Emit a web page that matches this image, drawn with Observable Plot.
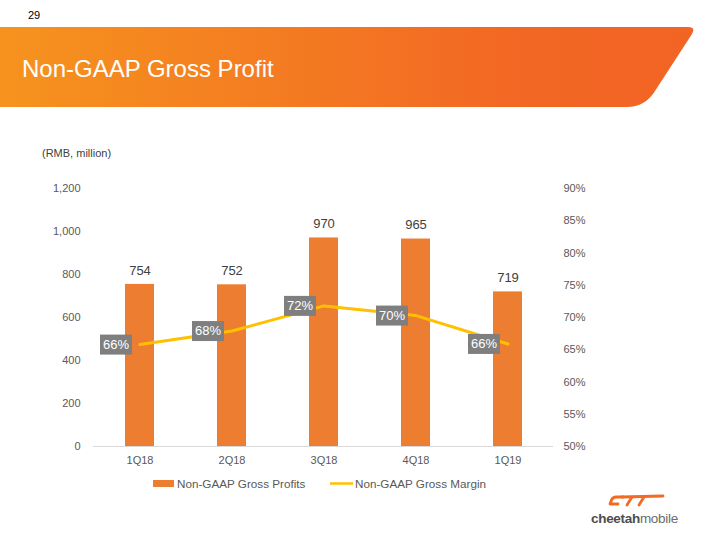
<!DOCTYPE html>
<html>
<head>
<meta charset="utf-8">
<script src="https://cdn.jsdelivr.net/npm/d3@7"></script>
<script src="https://cdn.jsdelivr.net/npm/@observablehq/plot@0.6"></script>
<style>
  html, body { margin: 0; padding: 0; background: #fff; }
  #page { position: relative; width: 720px; height: 540px; overflow: hidden; font-family: "Liberation Sans", Arial, sans-serif; }
  .abs { position: absolute; }
</style>
</head>
<body>
<div id="page">
  <svg class="abs" style="left:0;top:0" width="720" height="120">
    <defs>
      <linearGradient id="hdr" x1="0" x2="1" y1="0" y2="0">
        <stop offset="0" stop-color="#F6931E"/>
        <stop offset="0.75" stop-color="#F26724"/>
        <stop offset="1" stop-color="#F26424"/>
      </linearGradient>
    </defs>
    <text x="28" y="19" font-size="11" fill="#000" font-family="Liberation Sans, Arial">29</text>
    <path d="M0,27 L688,27 Q696,27 692,34 L655,91 Q645,107 627,107 L0,107 Z" fill="url(#hdr)"/>
    <text x="22" y="77" font-size="24" fill="#fff" font-family="Liberation Sans, Arial">Non-GAAP Gross Profit</text>
  </svg>
  <div class="abs" style="left:42px;top:147px;font-size:11px;color:#404040;">(RMB, million)</div>
  <div id="chart" class="abs" style="left:0;top:160px;"></div>
  <svg class="abs" style="left:0;top:470px" width="720" height="30">
    <rect x="153" y="10" width="21" height="7" fill="#ED7D31"/>
    <text x="177" y="17.5" font-size="11.7" fill="#595959" font-family="Liberation Sans, Arial">Non-GAAP Gross Profits</text>
    <line x1="330" x2="353" y1="13.5" y2="13.5" stroke="#FFC000" stroke-width="2.5"/>
    <text x="355" y="17.5" font-size="11.7" fill="#595959" font-family="Liberation Sans, Arial">Non-GAAP Gross Margin</text>
  </svg>
  <svg class="abs" style="left:560px;top:488px" width="160" height="45">
    <g fill="none" stroke="#F26B22" stroke-width="2.8" stroke-linecap="round" stroke-linejoin="round">
      <path d="M63,9 L56,9 Q53,9 51.5,12 L50,16 L58,16"/>
      <path d="M62,9 L103,8"/>
      <path d="M72,9 L67,17"/>
      <path d="M84,9 L79,17"/>
    </g>
    <text x="31" y="35" font-size="13.5" font-family="Liberation Sans, Arial" letter-spacing="-0.3"><tspan fill="#4d4d4d" font-weight="bold">cheetah</tspan><tspan fill="#6d6d6d">mobile</tspan></text>
  </svg>
</div>
<script>
const quarters = ["1Q18", "2Q18", "3Q18", "4Q18", "1Q19"];
const grossProfits = [754, 752, 970, 965, 719];
const grossMargin = [65.8, 67.9, 71.8, 70.3, 65.9];
const marginLabels = ["66%", "68%", "72%", "70%", "66%"];
const leftTicks = [0, 200, 400, 600, 800, 1000, 1200];
const rightTicks = [50, 55, 60, 65, 70, 75, 80, 85, 90];

// right axis (50%..90%) mapped onto the left axis range (0..1200)
const rMin = 50, rMax = 90, lMax = 1200;
const toLeft = p => (p - rMin) / (rMax - rMin) * lMax;
const toRight = v => rMin + v / lMax * (rMax - rMin);

const data = quarters.map((q, i) => ({
  q, v: grossProfits[i], m: grossMargin[i], ml: marginLabels[i]
}));

const boxSymbol = {
  draw(context, size) { context.rect(-16, -10, 32, 20); }
};

const chart = Plot.plot({
  width: 720,
  height: 330,
  marginTop: 28,
  marginBottom: 44,
  marginLeft: 93,
  marginRight: 167,
  style: { fontFamily: "Liberation Sans, Arial, sans-serif", fontSize: "11px", color: "#595959", background: "transparent", overflow: "visible" },
  x: { type: "band", domain: quarters, paddingInner: 0.685, paddingOuter: 0.3425, label: null },
  y: { domain: [0, lMax], label: null },
  marks: [
    Plot.ruleY([0], { stroke: "#d9d9d9", strokeWidth: 1 }),
    Plot.barY(data, { x: "q", y: "v", fill: "#ED7D31" }),
    Plot.text(data, { x: "q", y: "v", text: d => String(d.v), dy: -14, fontSize: 13, fill: "#404040" }),
    Plot.line(data, { x: "q", y: d => toLeft(d.m), stroke: "#FFC000", strokeWidth: 3 }),
    Plot.dot(data, { x: "q", y: d => toLeft(d.m), symbol: boxSymbol, fill: "#7F7F7F", stroke: "none", dx: -24 }),
    Plot.text(data, { x: "q", y: d => toLeft(d.m), text: "ml", dx: -24, fill: "#fff", fontSize: 13 }),
    Plot.axisY({ anchor: "left", ticks: leftTicks, tickSize: 0, tickPadding: 13, tickFormat: d3.format(","), label: null }),
    Plot.axisY({ anchor: "right", ticks: rightTicks.map(toLeft), tickSize: 0, tickPadding: 10, tickFormat: d => Math.round(toRight(d)) + "%", label: null }),
    Plot.axisX({ tickSize: 0, tickPadding: 10, label: null })
  ]
});
document.getElementById("chart").appendChild(chart);
</script>
</body>
</html>
